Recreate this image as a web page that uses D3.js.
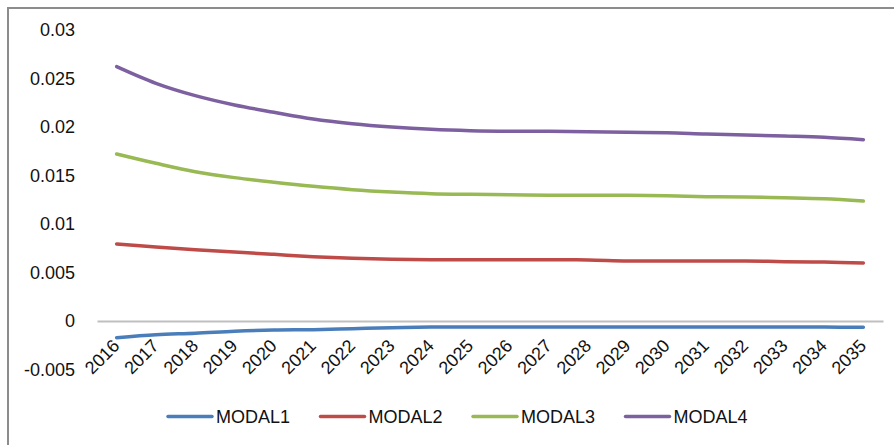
<!DOCTYPE html>
<html>
<head>
<meta charset="utf-8">
<script src="https://cdn.jsdelivr.net/npm/d3@7"></script>
<style>
  html, body { margin: 0; padding: 0; background: #fff; }
  svg { display: block; font-family: "Liberation Sans", Arial, sans-serif; }
</style>
</head>
<body>
<svg id="chart" width="894" height="445"></svg>
<script>
// Years on the category axis
const years = ["2016","2017","2018","2019","2020","2021","2022","2023","2024","2025",
               "2026","2027","2028","2029","2030","2031","2032","2033","2034","2035"];

// Series values, one per year
const modal1 = [-0.00172,-0.00141,-0.00127,-0.00106,-0.00093,-0.00089,-0.00079,-0.00069,-0.00063,-0.00063,
                -0.00063,-0.00063,-0.00063,-0.00063,-0.00063,-0.00063,-0.00063,-0.00063,-0.00063,-0.00064];
const modal2 = [0.00794,0.00763,0.00735,0.00711,0.00687,0.00663,0.00646,0.00636,0.00632,0.00632,
                0.00632,0.00632,0.00629,0.00619,0.00619,0.00619,0.00619,0.00612,0.00608,0.00598];
const modal3 = [0.01722,0.01626,0.01539,0.01478,0.01430,0.01388,0.01354,0.01330,0.01313,0.01306,
                0.01302,0.01296,0.01296,0.01296,0.01292,0.01282,0.01278,0.01271,0.01261,0.01237];
const modal4 = [0.02622,0.02450,0.02323,0.02227,0.02152,0.02082,0.02034,0.02000,0.01976,0.01962,
                0.01956,0.01956,0.01952,0.01945,0.01942,0.01928,0.01918,0.01907,0.01894,0.01869];

const seriesNames = ["MODAL1","MODAL2","MODAL3","MODAL4"];
const seriesColors = ["#4a7ebb","#be4b48","#98b954","#7d60a0"];

// Value axis ticks and their labels
const yTicks = [0.03,0.025,0.02,0.015,0.01,0.005,0,-0.005];
const yTickLabels = ["0.03","0.025","0.02","0.015","0.01","0.005","0","-0.005"];

const allSeries = [modal1, modal2, modal3, modal4];

const svg = d3.select("#chart");

// Frame along the top and left edges
svg.append("path")
  .attr("d", "M8,445 L8,8 L894,8")
  .attr("fill", "none")
  .attr("stroke", "#8c8c8c")
  .attr("stroke-width", 2);

const x = d3.scaleBand().domain(years).range([97, 883]);
const y = d3.scaleLinear().domain([-0.005, 0.03]).range([369.5, 30]);
const cx = d => x(d) + x.bandwidth() / 2;

// Value axis (labels only)
const yAxis = d3.axisLeft(y)
  .tickValues(yTicks)
  .tickSize(0)
  .tickPadding(3)
  .tickFormat(d => yTickLabels[yTicks.indexOf(d)]);
const gy = svg.append("g").attr("transform", "translate(78,0)").call(yAxis);
gy.select(".domain").remove();
gy.selectAll("text")
  .attr("font-size", 18)
  .attr("font-family", "Liberation Sans, Arial, sans-serif")
  .attr("fill", "#111");

// Category axis line at zero
const xAxis = d3.axisBottom(x).tickSize(0).tickFormat("");
const gx = svg.append("g").attr("transform", `translate(0,${y(0)})`).call(xAxis);
gx.select(".domain").attr("stroke", "#bfbfbf").attr("stroke-width", 1.8);

// Rotated year labels
svg.append("g").selectAll("text")
  .data(years)
  .join("text")
  .attr("transform", d => `translate(${cx(d) + 4},347) rotate(-45)`)
  .attr("text-anchor", "end")
  .attr("font-size", 18)
  .attr("fill", "#111")
  .text(d => d);

// Smoothed series lines
const line = d3.line()
  .x((d, i) => cx(years[i]))
  .y(d => y(d))
  .curve(d3.curveCatmullRom.alpha(0.5));

svg.append("g").selectAll("path")
  .data(allSeries)
  .join("path")
  .attr("d", d => line(d))
  .attr("fill", "none")
  .attr("stroke", (d, i) => seriesColors[i])
  .attr("stroke-width", 3.5)
  .attr("stroke-linecap", "round")
  .attr("stroke-linejoin", "round");

// Legend
const legend = svg.append("g").selectAll("g")
  .data(seriesNames)
  .join("g")
  .attr("transform", (d, i) => `translate(${168 + i * 152.5},416.5)`);
legend.append("line")
  .attr("x1", 0).attr("x2", 44)
  .attr("stroke", (d, i) => seriesColors[i])
  .attr("stroke-width", 3.5)
  .attr("stroke-linecap", "round");
legend.append("text")
  .attr("x", 48)
  .attr("y", 6.5)
  .attr("font-size", 18)
  .attr("fill", "#111")
  .text(d => d);
</script>
</body>
</html>
